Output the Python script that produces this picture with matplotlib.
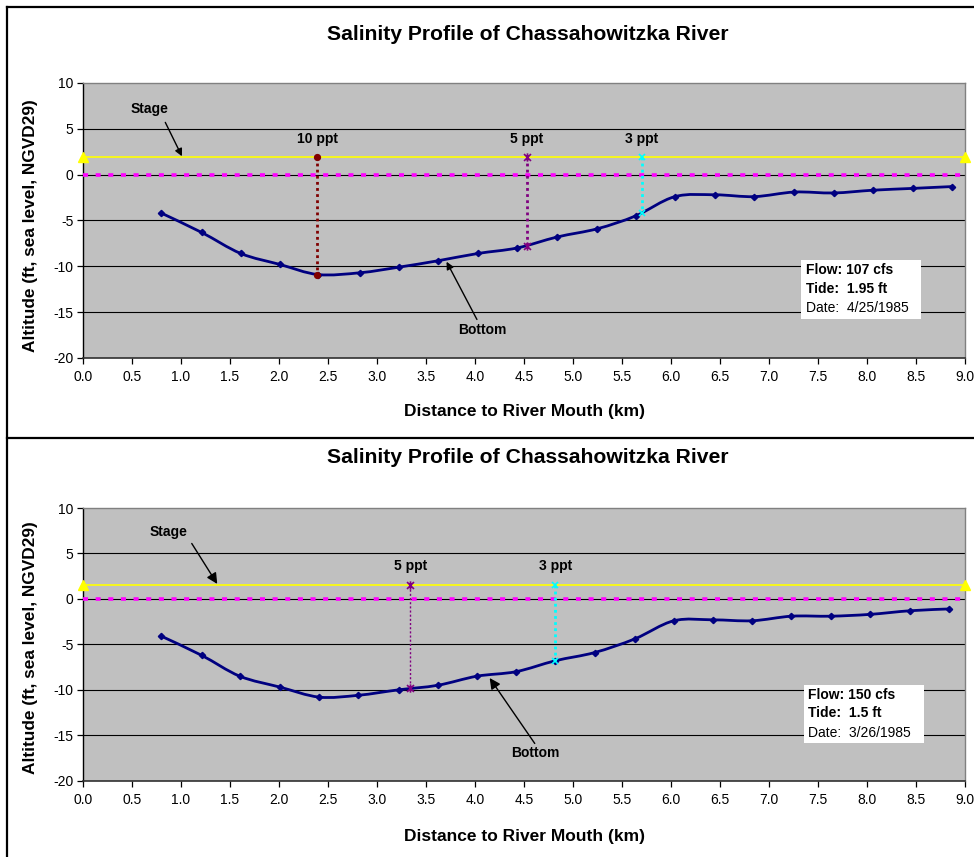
import numpy as np
import matplotlib
matplotlib.use("Agg")
import matplotlib.pyplot as plt
from matplotlib.path import Path
from matplotlib.patches import PathPatch, Rectangle
from matplotlib.lines import Line2D

plt.rcParams['font.family'] = ['Liberation Sans', 'DejaVu Sans']

# ---- survey data -------------------------------------------------------
# 4/25/1985 survey
dist_apr = [0.80, 1.21, 1.61, 2.01, 2.40, 2.83, 3.22, 3.62, 4.03, 4.43, 4.84,
            5.25, 5.64, 6.04, 6.45, 6.85, 7.26, 7.66, 8.06, 8.47, 8.87]
bed_apr = [-4.2, -6.3, -8.6, -9.8, -10.9, -10.7, -10.1, -9.4, -8.6, -8.0, -6.8,
           -5.9, -4.5, -2.4, -2.2, -2.4, -1.9, -2.0, -1.7, -1.5, -1.3]
stage_apr = 1.95
iso_labels_apr = ["10 ppt", "5 ppt", "3 ppt"]
iso_dist_apr = [2.39, 4.53, 5.70]
iso_bed_apr = [-10.9, -7.8, -4.2]
info_apr = ["Flow: 107 cfs", "Tide:  1.95 ft", "Date:  4/25/1985"]

# 3/26/1985 survey
dist_mar = [0.80, 1.21, 1.60, 2.01, 2.41, 2.81, 3.22, 3.62, 4.02, 4.42, 4.82,
            5.22, 5.63, 6.03, 6.43, 6.83, 7.23, 7.63, 8.03, 8.44, 8.84]
bed_mar = [-4.1, -6.2, -8.5, -9.7, -10.8, -10.6, -10.0, -9.5, -8.5, -8.0, -6.8,
           -5.9, -4.4, -2.4, -2.3, -2.4, -1.9, -1.9, -1.7, -1.3, -1.1]
stage_mar = 1.5
iso_labels_mar = ["5 ppt", "3 ppt"]
iso_dist_mar = [3.34, 4.82]
iso_bed_mar = [-9.8, -6.8]
info_mar = ["Flow: 150 cfs", "Tide:  1.5 ft", "Date:  3/26/1985"]

x_ticks = [0.0, 0.5, 1.0, 1.5, 2.0, 2.5, 3.0, 3.5, 4.0, 4.5, 5.0, 5.5, 6.0,
           6.5, 7.0, 7.5, 8.0, 8.5, 9.0]
y_ticks = [-20, -15, -10, -5, 0, 5, 10]

TITLE = "Salinity Profile of Chassahowitzka River"
XLABEL = "Distance to River Mouth (km)"
YLABEL = "Altitude (ft, sea level, NGVD29)"

NAVY = "#000080"
ISO_STYLE = {
    "10 ppt": dict(color="#800000", marker="o", ms=4),
    "5 ppt": dict(color="#800080", marker="ast", ms=6),
    "3 ppt": dict(color="#00FFFF", marker="x", ms=5),
}

# asterisk marker: an x with a vertical bar through it
ASTERISK = Path([[-1, -1], [1, 1], [-1, 1], [1, -1], [0, -1.2], [0, 1.2]],
                [Path.MOVETO, Path.LINETO, Path.MOVETO, Path.LINETO,
                 Path.MOVETO, Path.LINETO])


def smooth_path(x, y):
    """Cubic Bezier curve passing through every point (Catmull-Rom tangents)."""
    pts = np.column_stack([x, y]).astype(float)
    n = len(pts)
    verts = [pts[0]]
    codes = [Path.MOVETO]
    for i in range(n - 1):
        p0 = pts[i - 1] if i > 0 else pts[i]
        p1 = pts[i]
        p2 = pts[i + 1]
        p3 = pts[i + 2] if i + 2 < n else pts[i + 1]
        verts += [p1 + (p2 - p0) / 6.0, p2 - (p3 - p1) / 6.0, p2]
        codes += [Path.CURVE4] * 3
    return Path(verts, codes)


def draw_profile(ax, dist, bed, stage, iso_labels, iso_dist, iso_bed,
                 iso_lw, info, info_box, stage_txt, bottom_txt,
                 label_y, head_scale):
    ax.set_facecolor("#C0C0C0")
    ax.set_xlim(0, 9)
    ax.set_ylim(-20, 10)
    ax.set_xticks(x_ticks)
    ax.set_xticklabels([f"{v:.1f}" for v in x_ticks])
    ax.set_yticks(y_ticks)
    ax.set_yticklabels([str(v) for v in y_ticks])
    ax.tick_params(direction="out", length=4, width=0.9, labelsize=10,
                   colors="black", pad=3)
    ax.tick_params(axis="x", pad=5)
    for v in y_ticks[1:-1]:
        ax.axhline(v, color="black", lw=0.8, zorder=1)
    for side in ("top", "right"):
        ax.spines[side].set_color("#808080")
        ax.spines[side].set_linewidth(1.0)
    ax.spines["left"].set_color("black")
    ax.spines["bottom"].set_color("#303030")
    ax.spines["left"].set_linewidth(1.0)
    ax.spines["bottom"].set_linewidth(1.2)

    # sea level and stage
    ax.plot([0, 9], [0, 0], color="#FF00FF", lw=2.6,
            linestyle=(0, (1.4, 2.1)), solid_capstyle="butt", zorder=3,
            clip_on=False)
    ax.plot([0, 9], [stage, stage], color="#FFFF00", lw=1.2, zorder=3,
            marker="^", ms=7, markeredgecolor="#FFFF00", clip_on=False)

    # river bottom
    ax.add_patch(PathPatch(smooth_path(dist, bed), facecolor="none",
                           edgecolor=NAVY, lw=2.0, zorder=4))
    ax.plot(dist, bed, linestyle="none", marker="D", ms=3.2, color=NAVY,
            zorder=5)

    # isohaline positions
    for lab, xd, yb, lw in zip(iso_labels, iso_dist, iso_bed, iso_lw):
        st = ISO_STYLE[lab]
        mk = ASTERISK if st["marker"] == "ast" else st["marker"]
        ax.plot([xd, xd], [stage, yb], color=st["color"], lw=lw,
                linestyle=(0, (1, 1.2)) if lw > 1.5 else (0, (1.5, 1.5)),
                zorder=6)
        ax.plot([xd, xd], [stage, yb], linestyle="none", marker=mk,
                ms=st["ms"], color=st["color"], mec=st["color"],
                mew=1.2, zorder=7)
        ax.text(xd, label_y, lab, ha="center", va="center", fontsize=10,
                fontweight="bold", zorder=8)

    # Stage / Bottom callouts
    (sx, sy), (sax, say), (stx, sty) = stage_txt
    ax.text(sx, sy, "Stage", ha="center", va="center", fontsize=10,
            fontweight="bold", zorder=8)
    ax.annotate("", xy=(stx, sty), xytext=(sax, say),
                arrowprops=dict(arrowstyle="-|>", color="black", lw=1.0,
                                mutation_scale=head_scale,
                                shrinkA=0, shrinkB=0), zorder=8)
    (bx, by), (bax, bay), (btx, bty) = bottom_txt
    ax.text(bx, by, "Bottom", ha="center", va="center", fontsize=10,
            fontweight="bold", zorder=8)
    ax.annotate("", xy=(btx, bty), xytext=(bax, bay),
                arrowprops=dict(arrowstyle="-|>", color="black", lw=1.0,
                                mutation_scale=head_scale,
                                shrinkA=0, shrinkB=0), zorder=8)

    # flow / tide / date box
    (x0, x1, y0, y1), tx, tys = info_box
    ax.add_patch(Rectangle((x0, y1), x1 - x0, y0 - y1, facecolor="white",
                           edgecolor="none", zorder=8))
    for line, ty, w in zip(info, tys, ["bold", "bold", "normal"]):
        ax.text(tx, ty, line, ha="left", va="center", fontsize=10,
                fontweight=w, zorder=9)


fig = plt.figure(figsize=(9.74, 8.57), dpi=100)
fig.patch.set_facecolor("white")

ax1 = fig.add_axes([0.0852, 0.5823, 0.9055, 0.3209])
ax2 = fig.add_axes([0.0852, 0.0890, 0.9055, 0.3182])

draw_profile(ax1, dist_apr, bed_apr, stage_apr, iso_labels_apr, iso_dist_apr,
             iso_bed_apr, [2.0, 2.0, 2.0], info_apr,
             ((7.33, 8.55, -9.3, -15.77), 7.38, [-10.4, -12.5, -14.5]),
             ((0.68, 7.2), (0.84, 5.7), (1.01, 2.0)),
             ((4.07, -16.9), (4.02, -15.8), (3.71, -9.5)),
             3.86, 11)

draw_profile(ax2, dist_mar, bed_mar, stage_mar, iso_labels_mar, iso_dist_mar,
             iso_bed_mar, [1.0, 2.0], info_mar,
             ((7.36, 8.58, -9.5, -15.9), 7.40, [-10.6, -12.6, -14.7]),
             ((0.87, 7.35), (1.11, 6.1), (1.37, 1.65)),
             ((4.62, -17.0), (4.61, -15.9), (4.15, -8.7)),
             3.62, 16)

for y_title, y_xlab, y_ylab in [(0.960, 0.520, 0.737), (0.4656, 0.024, 0.244)]:
    fig.text(0.542, y_title, TITLE, ha="center", va="center", fontsize=15.2,
             fontweight="bold")
    fig.text(0.538, y_xlab, XLABEL, ha="center", va="center", fontsize=12.5,
             fontweight="bold")
    fig.text(0.031, y_ylab, YLABEL, ha="center", va="center", fontsize=12.4,
             fontweight="bold", rotation=90)

# chart frames
fx = 7 / 974
for line in [([fx, 1], [1 - 7 / 857] * 2),
             ([fx, fx], [1 - 7 / 857, 0]),
             ([fx, 1], [1 - 438 / 857] * 2)]:
    fig.add_artist(Line2D(line[0], line[1], color="black", lw=1.6,
                          transform=fig.transFigure))

fig.savefig("out.png", dpi=100)
